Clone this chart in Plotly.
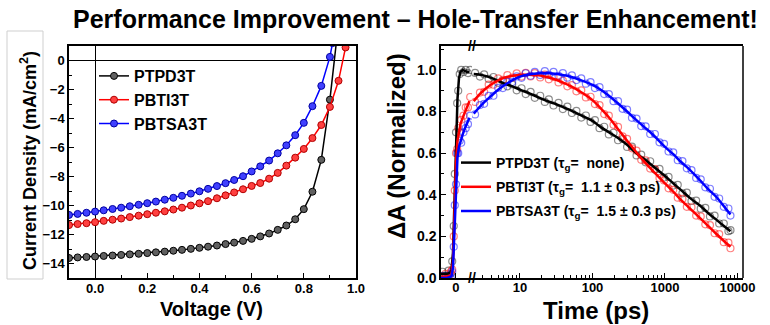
import plotly.graph_objects as go

# ---------------- Left panel: J-V curves ----------------
PTPD3T_V = [-0.100, -0.067, -0.033, 0.000, 0.033, 0.067, 0.100, 0.133, 0.167, 0.200,
            0.233, 0.267, 0.300, 0.333, 0.367, 0.400, 0.433, 0.467, 0.500, 0.533,
            0.567, 0.600, 0.633, 0.667, 0.700, 0.733, 0.767, 0.800, 0.833, 0.867,
            0.900, 0.925]
PTPD3T_J = [-13.62, -13.58, -13.55, -13.52, -13.48, -13.45, -13.41, -13.37, -13.33, -13.28,
            -13.23, -13.18, -13.12, -13.06, -12.99, -12.92, -12.84, -12.76, -12.66, -12.56,
            -12.44, -12.30, -12.13, -11.93, -11.68, -11.38, -10.95, -10.25, -9.05, -6.85,
            -2.70, 1.30]

PBTI3T_V = [-0.100, -0.067, -0.033, 0.000, 0.033, 0.067, 0.100, 0.133, 0.167, 0.200,
            0.233, 0.267, 0.300, 0.333, 0.367, 0.400, 0.433, 0.467, 0.500, 0.533,
            0.567, 0.600, 0.633, 0.667, 0.700, 0.733, 0.767, 0.800, 0.833, 0.867,
            0.900, 0.933, 0.960]
PBTI3T_J = [-11.35, -11.28, -11.22, -11.15, -11.06, -10.98, -10.90, -10.80, -10.70, -10.60,
            -10.50, -10.40, -10.28, -10.15, -10.00, -9.85, -9.70, -9.50, -9.30, -9.10,
            -8.88, -8.65, -8.45, -8.15, -7.75, -7.25, -6.70, -6.10, -5.35, -4.45,
            -3.20, -1.40, 0.90]

PBTSA3T_V = [-0.100, -0.067, -0.033, 0.000, 0.033, 0.067, 0.100, 0.133, 0.167, 0.200,
             0.233, 0.267, 0.300, 0.333, 0.367, 0.400, 0.433, 0.467, 0.500, 0.533,
             0.567, 0.600, 0.633, 0.667, 0.700, 0.733, 0.767, 0.800, 0.833, 0.867,
             0.900, 0.910]
PBTSA3T_J = [-10.65, -10.58, -10.50, -10.42, -10.33, -10.24, -10.15, -10.05, -9.95, -9.84,
             -9.73, -9.60, -9.47, -9.33, -9.18, -9.02, -8.85, -8.66, -8.46, -8.24,
             -7.98, -7.65, -7.30, -6.90, -6.40, -5.85, -5.15, -4.30, -3.15, -1.75,
             0.25, 1.20]

JV_NAMES = ["PTPD3T", "PBTI3T", "PBTSA3T"]

# ---------------- Right panel: transient absorption ----------------
# linear part (around time zero)
LIN_FIT_T = [-1.0, -0.6, -0.4, -0.3, -0.2, -0.1, 0.0, 0.1, 0.2, 0.3, 0.45, 0.6, 0.75, 0.9]
LIN_FIT_PTPD3T = [0.02, 0.02, 0.025, 0.04, 0.12, 0.35, 0.64, 0.86, 0.96, 0.99, 1.0, 0.995, 0.99, 0.99]
LIN_FIT_PBTI3T = [0.005, 0.01, 0.01, 0.02, 0.08, 0.30, 0.56, 0.66, 0.71, 0.74, 0.77, 0.80, 0.83, 0.85]
LIN_FIT_PBTSA3T = [0.0, 0.0, 0.005, 0.01, 0.05, 0.24, 0.47, 0.58, 0.63, 0.66, 0.69, 0.72, 0.75, 0.77]

LIN_T = [-0.9, -0.7, -0.5, -0.35, -0.25, -0.15, -0.08, 0.0, 0.08, 0.15, 0.25, 0.35, 0.5, 0.65, 0.8, 0.95]
LIN_PTPD3T = [0.03, 0.01, 0.035, 0.02, 0.08, 0.25, 0.50, 0.70, 0.84, 0.90, 0.98, 1.0, 0.99, 1.0, 0.985, 1.0]
LIN_PBTI3T = [0.0, 0.02, 0.0, 0.03, 0.04, 0.20, 0.42, 0.60, 0.62, 0.72, 0.70, 0.76, 0.78, 0.82, 0.82, 0.87]
LIN_PBTSA3T = [0.01, -0.005, 0.01, 0.0, 0.03, 0.15, 0.35, 0.45, 0.60, 0.60, 0.66, 0.65, 0.70, 0.72, 0.74, 0.78]

# log part
FIT_T = [2.3, 3, 4, 5, 6, 8, 10, 13, 17, 22, 30, 40, 50, 70, 100, 130, 170, 220, 300, 400,
         500, 700, 1000, 1300, 1700, 2200, 3000, 4000, 5000, 6500, 8000]
FIT_PTPD3T = [0.98, 0.975, 0.962, 0.948, 0.935, 0.92, 0.905, 0.89, 0.872, 0.855,
              0.838, 0.82, 0.806, 0.782, 0.755, 0.725, 0.70, 0.675, 0.64, 0.60,
              0.575, 0.535, 0.49, 0.455, 0.42, 0.385, 0.35, 0.31, 0.283, 0.25, 0.225]
FIT_PBTI3T = [0.85, 0.895, 0.93, 0.95, 0.962, 0.972, 0.976, 0.977, 0.975, 0.968,
              0.955, 0.938, 0.922, 0.893, 0.855, 0.815, 0.77, 0.72, 0.66, 0.605,
              0.565, 0.51, 0.455, 0.415, 0.372, 0.335, 0.29, 0.248, 0.215, 0.178, 0.15]
FIT_PBTSA3T = [0.79, 0.835, 0.875, 0.905, 0.925, 0.952, 0.968, 0.978, 0.983, 0.985,
               0.982, 0.975, 0.967, 0.95, 0.928, 0.905, 0.875, 0.842, 0.80, 0.76,
               0.73, 0.685, 0.63, 0.595, 0.555, 0.52, 0.472, 0.425, 0.393, 0.345, 0.305]

LOG_T = [2.4, 2.8, 3.2, 3.7, 4.3, 5, 5.8, 6.7, 7.8, 9,
         10.5, 12, 14, 16, 19, 22, 25, 29, 34, 39,
         45, 52, 60, 70, 81, 94, 108, 125, 145, 168,
         195, 225, 260, 300, 350, 405, 470, 540, 625, 725,
         840, 970, 1120, 1300, 1500, 1740, 2000, 2320, 2690, 3110,
         3600, 4170, 4830, 5590, 6470, 7500, 8000]
LOG_PTPD3T = [0.986, 0.968, 0.979, 0.957, 0.966, 0.938, 0.947, 0.921, 0.931, 0.902,
              0.912, 0.884, 0.895, 0.866, 0.876, 0.846, 0.858, 0.829, 0.842, 0.812,
              0.824, 0.793, 0.803, 0.771, 0.781, 0.750, 0.759, 0.720, 0.727, 0.690,
              0.698, 0.662, 0.668, 0.630, 0.631, 0.589, 0.593, 0.556, 0.561, 0.521,
              0.524, 0.483, 0.486, 0.444, 0.448, 0.407, 0.410, 0.370, 0.372, 0.333,
              0.337, 0.296, 0.300, 0.262, 0.262, 0.225, 0.230]
LOG_PBTI3T = [0.846, 0.891, 0.895, 0.929, 0.929, 0.959, 0.952, 0.975, 0.963, 0.983,
              0.968, 0.986, 0.969, 0.985, 0.964, 0.977, 0.955, 0.966, 0.940, 0.949,
              0.921, 0.927, 0.897, 0.902, 0.868, 0.871, 0.836, 0.831, 0.788, 0.780,
              0.736, 0.726, 0.681, 0.669, 0.623, 0.612, 0.568, 0.565, 0.526, 0.523,
              0.481, 0.469, 0.431, 0.424, 0.386, 0.380, 0.342, 0.340, 0.300, 0.296,
              0.258, 0.254, 0.215, 0.211, 0.172, 0.170, 0.143]
LOG_PBTSA3T = [0.786, 0.831, 0.837, 0.875, 0.876, 0.914, 0.913, 0.944, 0.942, 0.969,
               0.962, 0.984, 0.972, 0.991, 0.976, 0.994, 0.976, 0.991, 0.971, 0.985,
               0.963, 0.974, 0.951, 0.959, 0.934, 0.941, 0.913, 0.917, 0.884, 0.884,
               0.850, 0.850, 0.813, 0.809, 0.770, 0.766, 0.730, 0.729, 0.692, 0.692,
               0.652, 0.645, 0.608, 0.604, 0.566, 0.562, 0.527, 0.518, 0.481, 0.474,
               0.436, 0.429, 0.390, 0.382, 0.342, 0.334, 0.300]

TA_LABELS = ["PTPD3T (\u03c4<sub>g</sub>=\u00a0 none)",
             "PBTI3T (\u03c4<sub>g</sub>=\u00a0 1.1 \u00b1 0.3 ps)",
             "PBTSA3T (\u03c4<sub>g</sub>=\u00a0 1.5 \u00b1 0.3 ps)"]

X_TICKS_LOG = [10, 100, 1000, 10000]
X_TICKS_LOG_TEXT = ["10", "100", "1000", "10000"]

TITLE = "Performance Improvement \u2013 Hole-Transfer Enhancement!"

# ---------------- styling ----------------
W, H = 770, 325
FONT = "Arial, Liberation Sans, sans-serif"
COLORS = ["#000000", "#ff0000", "#0000ff"]
FILLS = ["#606060", "#ff4040", "#4040ff"]
EDGES = ["#000000", "#b00000", "#0000a0"]
SCAT = ["rgba(0,0,0,0.45)", "rgba(255,0,0,0.5)", "rgba(0,0,255,0.5)"]


def px(x):
    return x / W


def py(y):
    return (H - y) / H


fig = go.Figure()

jv = [(PTPD3T_V, PTPD3T_J), (PBTI3T_V, PBTI3T_J), (PBTSA3T_V, PBTSA3T_J)]
for i, (v, j) in enumerate(jv):
    fig.add_trace(go.Scatter(
        x=v, y=j, mode="lines+markers", name=JV_NAMES[i],
        line=dict(color=COLORS[i], width=1.5),
        marker=dict(symbol="circle", size=7, color=FILLS[i],
                    line=dict(color=EDGES[i], width=1)),
        xaxis="x", yaxis="y", legend="legend", legendgroup="jv%d" % i))

lin_scatter = [LIN_PTPD3T, LIN_PBTI3T, LIN_PBTSA3T]
lin_fit = [LIN_FIT_PTPD3T, LIN_FIT_PBTI3T, LIN_FIT_PBTSA3T]
log_scatter = [LOG_PTPD3T, LOG_PBTI3T, LOG_PBTSA3T]
log_fit = [FIT_PTPD3T, FIT_PBTI3T, FIT_PBTSA3T]

for i in range(3):
    fig.add_trace(go.Scatter(
        x=LIN_T, y=lin_scatter[i], mode="markers", showlegend=False,
        marker=dict(symbol="circle-open", size=7, color=SCAT[i], line=dict(width=1.2)),
        xaxis="x2", yaxis="y2"))
    fig.add_trace(go.Scatter(
        x=LOG_T, y=log_scatter[i], mode="markers", showlegend=False,
        marker=dict(symbol="circle-open", size=7, color=SCAT[i], line=dict(width=1.2)),
        xaxis="x3", yaxis="y2"))
for i in range(3):
    fig.add_trace(go.Scatter(
        x=LIN_FIT_T, y=lin_fit[i], mode="lines", showlegend=False,
        line=dict(color=COLORS[i], width=2.5),
        xaxis="x2", yaxis="y2"))
    fig.add_trace(go.Scatter(
        x=FIT_T, y=log_fit[i], mode="lines", name=TA_LABELS[i],
        line=dict(color=COLORS[i], width=2.5, shape="spline"),
        xaxis="x3", yaxis="y2", legend="legend2", legendgroup="ta%d" % i))

tick_font_l = dict(family=FONT, size=13, color="black", weight="bold")
tick_font_r = dict(family=FONT, size=14, color="black", weight="bold")
tick_font_rx = dict(family=FONT, size=13, color="black", weight="bold")
ydom = [py(278), py(46)]
minor_log = [m * d for d in [1, 10, 100, 1000] for m in range(2, 10)]

axis_common = dict(showline=True, linecolor="black", linewidth=1.5, showgrid=False,
                   ticks="inside", tickcolor="black", tickwidth=1.2, ticklen=5,
                   automargin=False)

fig.update_layout(
    width=W, height=H, margin=dict(l=0, r=0, t=0, b=0, autoexpand=False),
    paper_bgcolor="white", plot_bgcolor="white",
    font=dict(family=FONT, color="black"),
    xaxis=dict(domain=[px(69), px(356)], anchor="y", range=[-0.1, 1.0],
               tick0=0, dtick=0.2, tickformat=".1f", mirror=True, ticklabelstandoff=-2,
               minor=dict(dtick=0.1, ticks="inside", ticklen=3, tickcolor="black"),
               zeroline=True, zerolinecolor="black", zerolinewidth=1.3,
               tickfont=tick_font_l, **axis_common),
    yaxis=dict(domain=ydom, anchor="x", range=[-15, 1], tick0=0, dtick=2, mirror=True,
               minor=dict(dtick=1, ticks="inside", ticklen=3, tickcolor="black"),
               zeroline=True, zerolinecolor="black", zerolinewidth=1.3,
               tickfont=tick_font_l, **axis_common),
    xaxis2=dict(domain=[px(441), px(472)], anchor="y2", range=[-1, 1.07],
                tickvals=[0], ticktext=["0"], mirror=True, zeroline=False, ticklabelstandoff=-3,
                tickfont=tick_font_rx, **axis_common),
    xaxis3=dict(domain=[px(472), px(743)], anchor="y2", type="log", range=[0.338, 4.076],
                tickvals=X_TICKS_LOG, ticktext=X_TICKS_LOG_TEXT, mirror=True, zeroline=False,
                ticklabelstandoff=-3,
                minor=dict(tickvals=minor_log, ticks="inside", ticklen=3, tickcolor="black"),
                tickfont=tick_font_rx, **axis_common),
    yaxis2=dict(domain=ydom, anchor="x2", range=[0, 1.115], tick0=0, dtick=0.2,
                tickformat=".1f", zeroline=False,
                minor=dict(dtick=0.1, ticks="inside", ticklen=3, tickcolor="black"),
                tickfont=tick_font_r, **axis_common),
    legend=dict(x=px(94), y=py(59), xanchor="left", yanchor="top",
                bgcolor="rgba(0,0,0,0)", tracegroupgap=0,
                font=dict(family=FONT, size=16, color="black", weight="bold")),
    legend2=dict(x=px(456), y=py(147), xanchor="left", yanchor="top",
                 bgcolor="rgba(0,0,0,0)", tracegroupgap=3,
                 font=dict(family=FONT, size=14, color="black", weight="bold")),
    showlegend=True,
)

annotations = [
    dict(text=TITLE, x=px(415), y=py(19), font=dict(family=FONT, size=25, weight="bold")),
    dict(text="Current Density (mA/cm<sup>2</sup>)", x=px(28), y=py(161), textangle=-90,
         font=dict(family=FONT, size=18, weight="bold")),
    dict(text="Voltage (V)", x=px(212), y=py(309), font=dict(family=FONT, size=20, weight="bold")),
    dict(text="\u0394A (Normalized)", x=px(396), y=py(146), textangle=-90,
         font=dict(family=FONT, size=24, weight="bold")),
    dict(text="Time (ps)", x=px(596), y=py(310), font=dict(family=FONT, size=24, weight="bold")),
    dict(text="//", x=px(472), y=py(46), font=dict(family=FONT, size=14, weight="bold")),
    dict(text="//", x=px(472), y=py(278), font=dict(family=FONT, size=14, weight="bold")),
]
for a in annotations:
    a.update(xref="paper", yref="paper", showarrow=False, xanchor="center", yanchor="middle")
    a["font"]["color"] = "black"
fig.update_layout(annotations=annotations)

fig.update_layout(shapes=[
    dict(type="rect", xref="paper", yref="paper", x0=px(7), x1=px(43), y0=py(279), y1=py(31),
         line=dict(color="#cfcfcf", width=1), layer="below"),
    dict(type="line", xref="paper", yref="paper", x0=px(743), x1=px(743), y0=ydom[0], y1=ydom[1],
         line=dict(color="black", width=1.5)),
])

fig.write_html("out.html", config={"displayModeBar": False},
               post_script="document.body.style.margin='0px';document.body.style.overflow='hidden';")
